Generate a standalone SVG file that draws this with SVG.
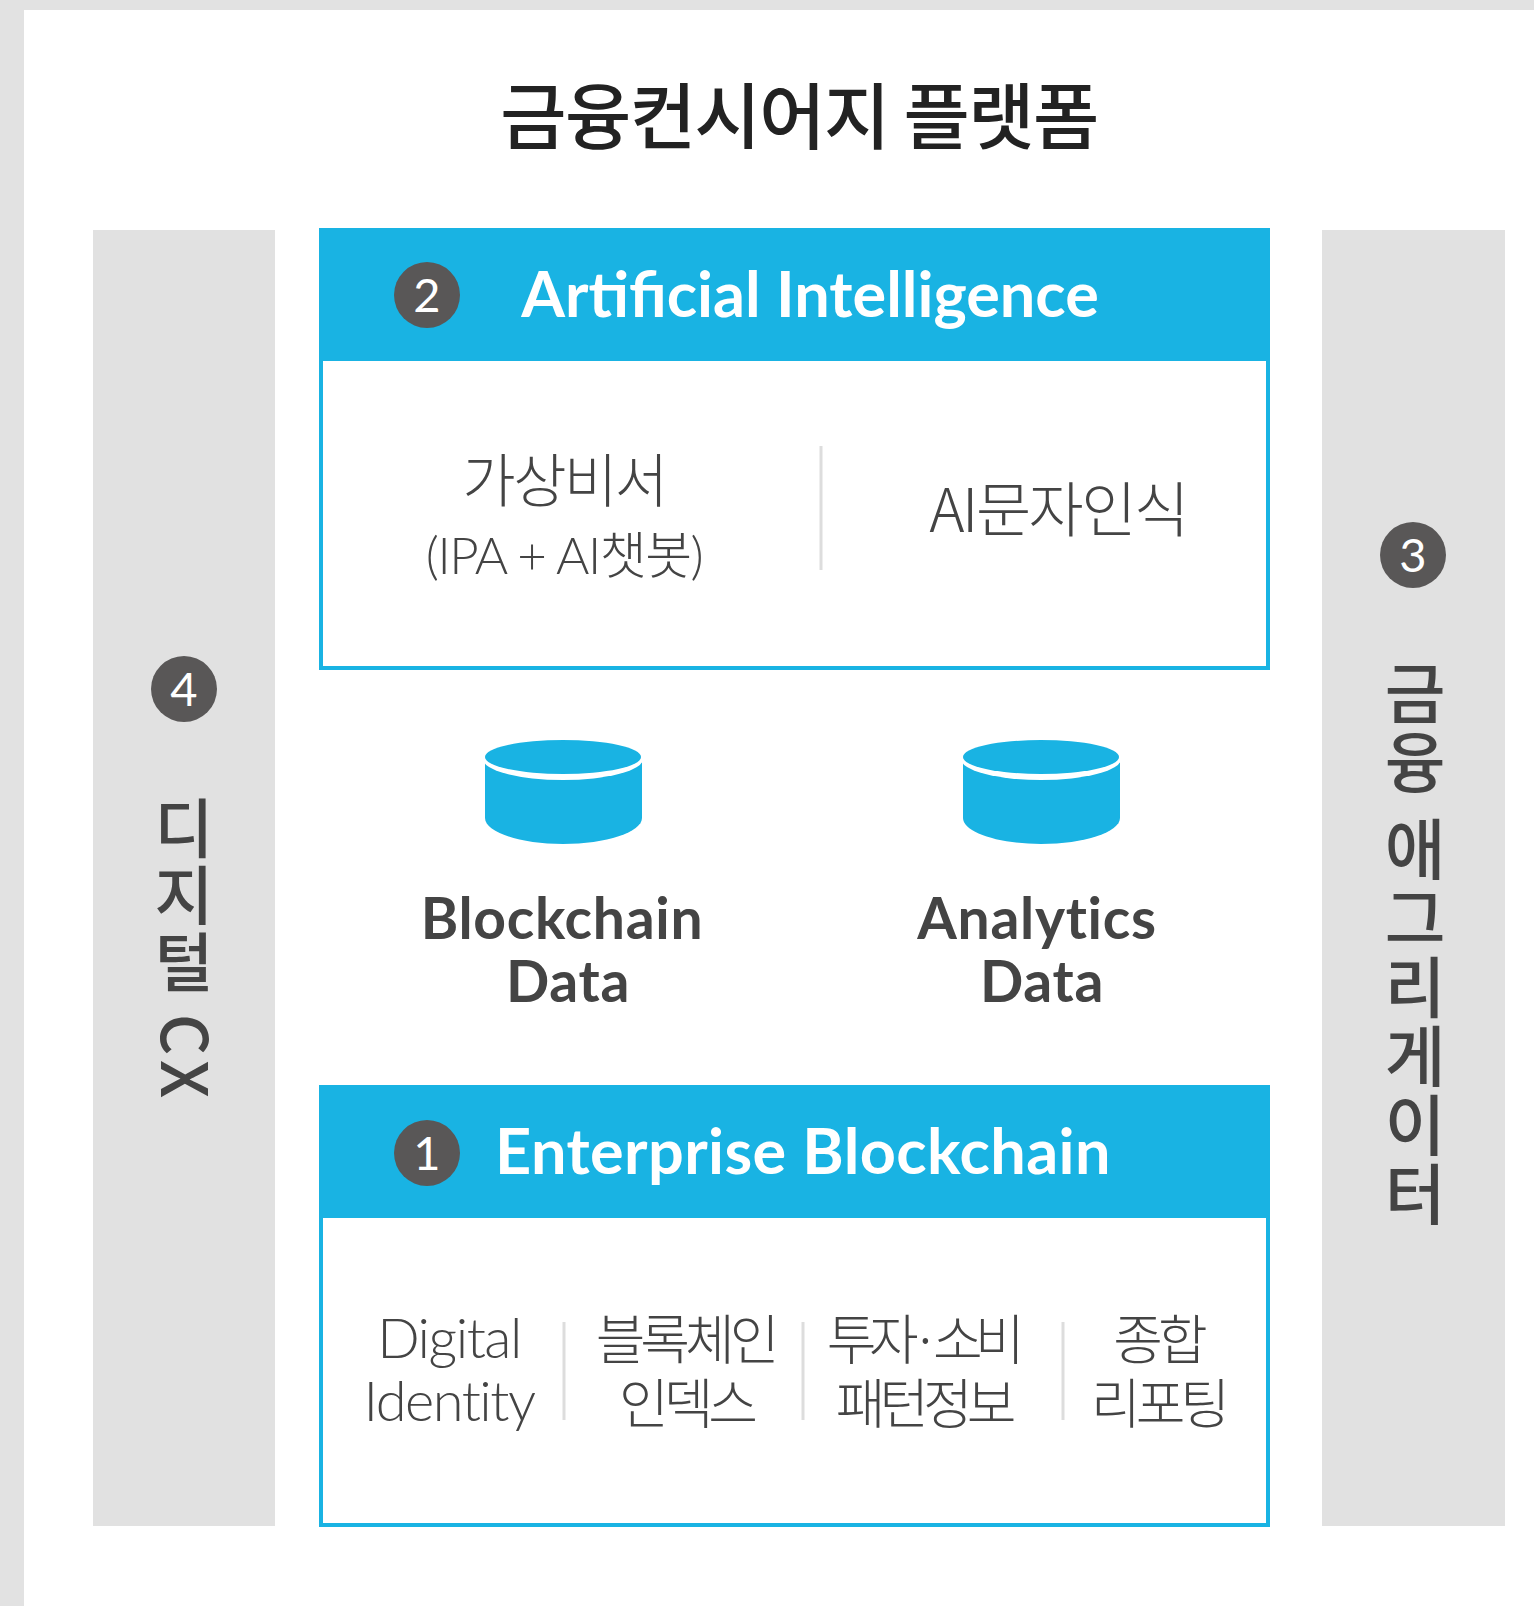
<svg xmlns="http://www.w3.org/2000/svg" width="1534" height="1606" viewBox="0 0 1534 1606">
<style>
text{font-family:"Lato","Noto Sans CJK KR",sans-serif;text-anchor:middle}
.kr{font-family:"Noto Sans CJK KR",sans-serif;font-weight:300;fill:#444;font-size:58px;letter-spacing:-2.5px}
.krs{font-family:"Noto Sans CJK KR",sans-serif;font-weight:300;fill:#444;font-size:54px;letter-spacing:-5px}
.lt{font-family:"Lato","Noto Sans CJK KR",sans-serif;font-weight:300;fill:#444;font-size:56px;letter-spacing:-1.5px}
.hd{font-family:"Lato",sans-serif;font-weight:700;fill:#fff;font-size:63px;letter-spacing:0}
.db{font-family:"Lato",sans-serif;font-weight:700;fill:#444;font-size:57px;letter-spacing:.7px}
.num{font-family:"Lato",sans-serif;font-size:47px;fill:#fff;font-weight:400}
.badge{fill:#595757}
.side{fill:#e1e1e1}
.vert{font-family:"Noto Sans CJK KR",sans-serif;font-weight:500;fill:#444;font-size:66px;writing-mode:vertical-rl;text-orientation:mixed}
.box{fill:#fff;stroke:#19b3e3;stroke-width:4}
.band{fill:#19b3e3}
.sep{stroke:#ddd;stroke-width:3}
</style>
<rect width="1534" height="1606" fill="#e2e2e2"/>
<rect x="24" y="10" width="1510" height="1596" fill="#fff"/>
<text id="title" x="799" y="143" font-size="72" font-weight="500" fill="#222" style="font-family:'Noto Sans CJK KR',sans-serif;letter-spacing:-1.5px">금융컨시어지 플랫폼</text>
<g id="side-left"><rect class="side" x="93" y="230" width="182" height="1296"/>
<circle class="badge" cx="184" cy="689" r="33"/><text class="num" x="184" y="706">4</text>
<text class="vert" x="184" y="796" style="text-anchor:start;font-size:64px;letter-spacing:3px">디지털 <tspan dx="5" style="letter-spacing:5px">CX</tspan></text></g>
<g id="side-right"><rect class="side" x="1322" y="230" width="183" height="1296"/>
<circle class="badge" cx="1413" cy="555" r="33"/><text class="num" x="1413" y="572">3</text>
<text class="vert" x="1415" y="660" style="text-anchor:start;letter-spacing:3px">금융 애그리게이터</text></g>
<g id="ai"><rect class="box" x="321" y="230" width="947" height="438"/><rect class="band" x="320" y="228" width="949" height="133"/>
<circle class="badge" cx="427" cy="295" r="33"/><text class="num" x="427" y="312">2</text>
<text class="hd" x="810" y="317">Artificial Intelligence</text>
<text class="kr" x="564" y="502">가상비서</text>
<text class="lt" x="564" y="574" style="font-size:51px">(IPA + AI챗봇)</text>
<line class="sep" x1="821" y1="446" x2="821" y2="570"/>
<text class="kr" x="1058" y="532" style="font-size:60px">AI문자인식</text></g>
<g id="db-blockchain"><path class="band" d="M485 756V818C485 832 520 844 563 844S642 832 642 818V756Z"/><ellipse cx="563" cy="759" rx="80" ry="21" fill="#fff"/><ellipse class="band" cx="563" cy="757" rx="78" ry="17"/>
<text class="db" x="562" y="939">Blockchain</text><text class="db" x="568" y="1002">Data</text></g>
<g id="db-analytics"><path class="band" d="M963 756V818C963 832 998 844 1041 844S1120 832 1120 818V756Z"/><ellipse cx="1041" cy="759" rx="80" ry="21" fill="#fff"/><ellipse class="band" cx="1041" cy="757" rx="78" ry="17"/>
<text class="db" x="1037" y="939">Analytics</text><text class="db" x="1042" y="1002">Data</text></g>
<g id="eb"><rect class="box" x="321" y="1087" width="947" height="438"/><rect class="band" x="320" y="1085" width="949" height="133"/>
<circle class="badge" cx="427" cy="1153" r="33"/><text class="num" x="427" y="1170">1</text>
<text class="hd" x="803" y="1174" style="letter-spacing:.4px">Enterprise Blockchain</text>
<text class="lt" x="449" y="1358">Digital</text><text class="lt" x="449" y="1421">Identity</text>
<line class="sep" x1="564" y1="1322" x2="564" y2="1420"/>
<text class="krs" x="685" y="1360">블록체인</text><text class="krs" x="686" y="1424">인덱스</text>
<line class="sep" x1="803" y1="1322" x2="803" y2="1420"/>
<text class="krs" x="922" y="1360" style="letter-spacing:-7.5px">투자·소비</text><text class="krs" x="923" y="1424" style="letter-spacing:-6px">패턴정보</text>
<line class="sep" x1="1063" y1="1322" x2="1063" y2="1420"/>
<text class="krs" x="1158" y="1360">종합</text><text class="krs" x="1158" y="1424">리포팅</text></g>
</svg>
